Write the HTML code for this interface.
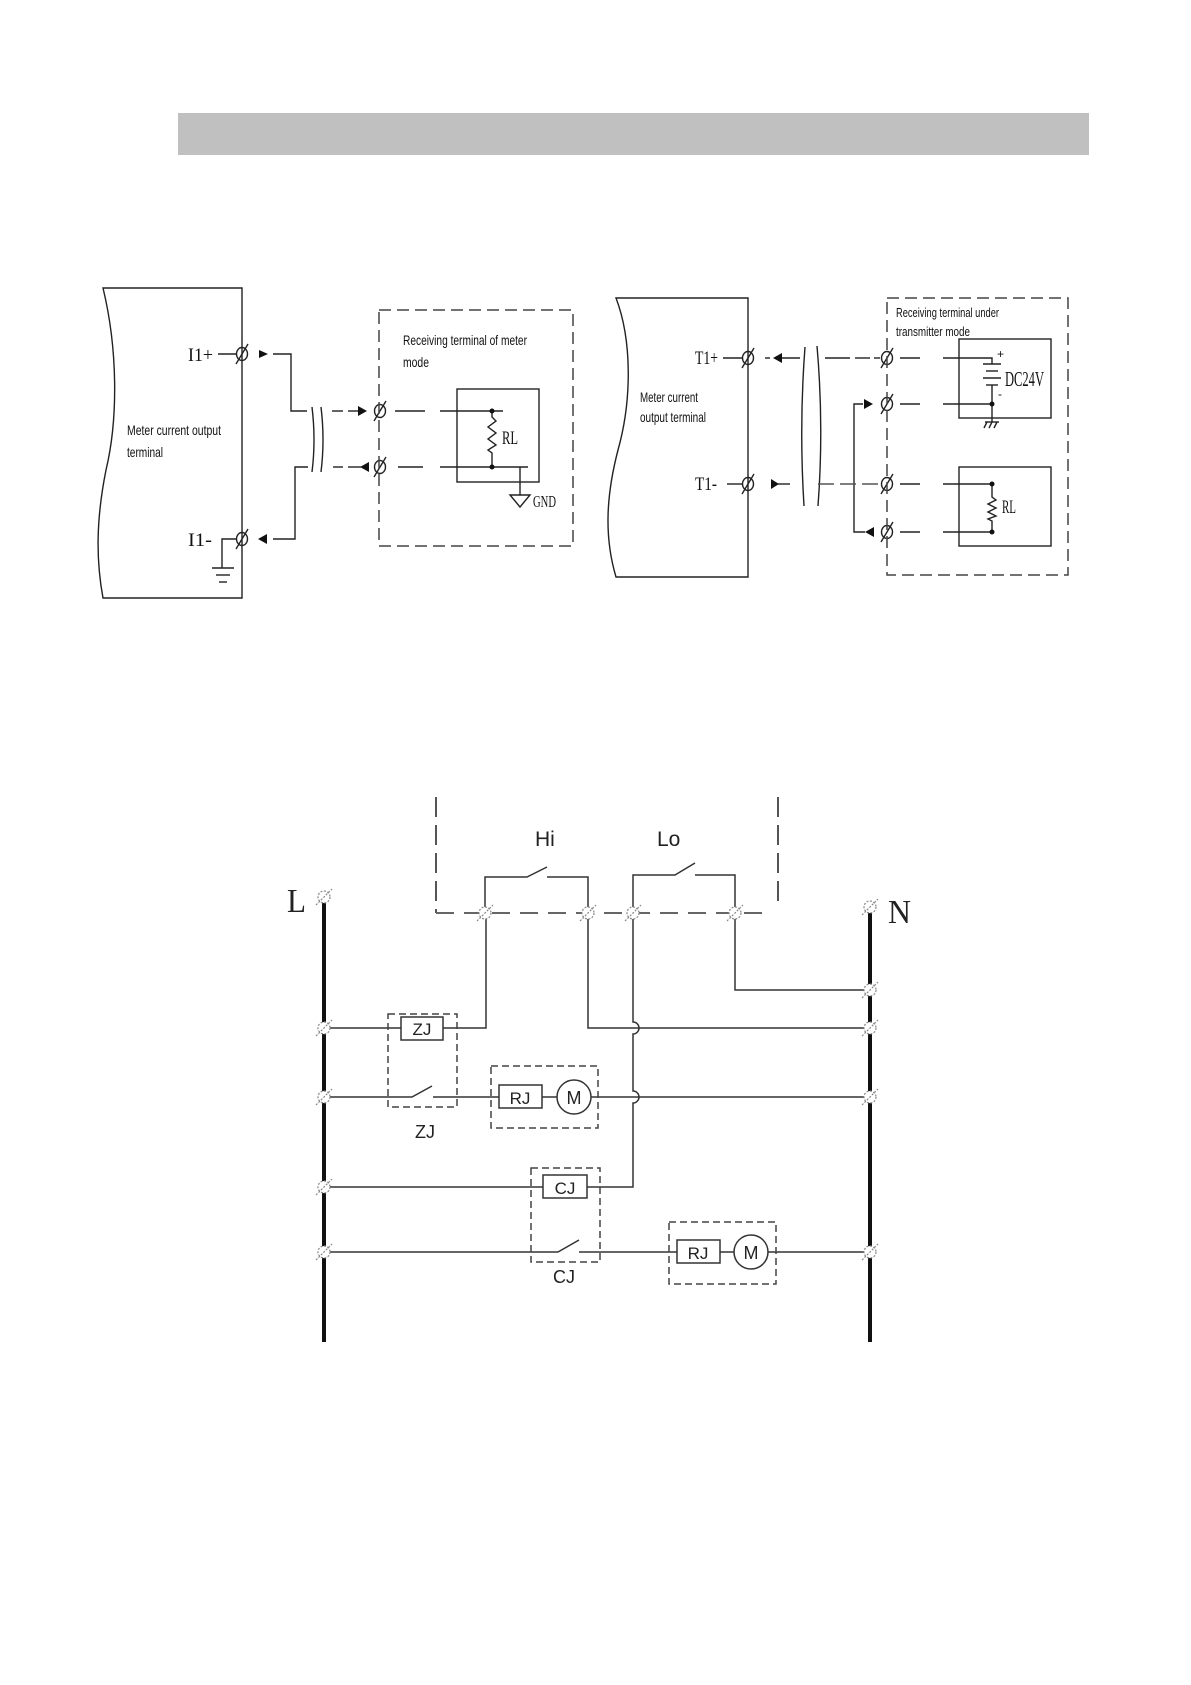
<!DOCTYPE html>
<html>
<head>
<meta charset="utf-8">
<style>
html,body{margin:0;padding:0;background:#fff;}
body{width:1191px;height:1685px;position:relative;overflow:hidden;}
svg{position:absolute;left:0;top:0;}
.s{font-family:"Liberation Sans",sans-serif;}
.r{font-family:"Liberation Serif",serif;}
</style>
</head>
<body>
<svg width="1191" height="1685" viewBox="0 0 1191 1685" xmlns="http://www.w3.org/2000/svg">
<rect x="0" y="0" width="1191" height="1685" fill="#fff"/>
<!-- header bar -->
<rect x="178" y="113" width="911" height="42" fill="#c0c0c0"/>

<!-- ============ LEFT DIAGRAM ============ -->
<g stroke="#222" stroke-width="1.4" fill="none">
  <path d="M242 288 L103 288 C118 350 118 420 106 470 C96 520 96 560 103 598 L242 598 Z"/>
  <!-- I1+ -->
  <line x1="218" y1="354" x2="236" y2="354"/>
  <ellipse cx="242" cy="354" rx="5.5" ry="6.5"/>
  <line x1="236" y1="364" x2="248" y2="344"/>
  <polyline points="273,354 291,354 291,411 307,411"/>
  <!-- break -->
  <path d="M312 407 Q316 440 312 472"/>
  <path d="M321 407 Q325 440 321 472"/>
  <line x1="332" y1="411" x2="343" y2="411"/>
  <line x1="348" y1="411" x2="358" y2="411"/>
  <ellipse cx="380" cy="411" rx="5.5" ry="6.5"/>
  <line x1="374" y1="421" x2="386" y2="401"/>
  <line x1="395" y1="411" x2="425" y2="411"/>
  <line x1="440" y1="411" x2="503" y2="411"/>
  <!-- lower -->
  <line x1="333" y1="467" x2="343" y2="467"/>
  <line x1="348" y1="467" x2="361" y2="467"/>
  <ellipse cx="380" cy="467" rx="5.5" ry="6.5"/>
  <line x1="374" y1="477" x2="386" y2="457"/>
  <line x1="398" y1="467" x2="423" y2="467"/>
  <line x1="440" y1="467" x2="528" y2="467"/>
  <polyline points="308,467 295,467 295,539 273,539"/>
  <!-- I1- -->
  <ellipse cx="242" cy="539" rx="5.5" ry="6.5"/>
  <line x1="236" y1="549" x2="248" y2="529"/>
  <polyline points="236,539 222,539 222,568"/>
  <line x1="212" y1="568" x2="234" y2="568"/>
  <line x1="216" y1="575" x2="230" y2="575"/>
  <line x1="219" y1="582" x2="227" y2="582"/>
  <!-- RL box -->
  <rect x="457" y="389" width="82" height="93"/>
  <path d="M492 411 V417 L496 421 L488 427 L496 433 L488 439 L496 445 L488 450 L492 453 V467"/>
  <polyline points="520,467 520,495"/>
  <path d="M510 495 L530 495 L520 507 Z"/>
</g>
<rect x="379" y="310" width="194" height="236" fill="none" stroke="#444" stroke-width="1.5" stroke-dasharray="12 6"/>
<g fill="#111">
  <path d="M259 350 L268 354 L259 358 Z"/>
  <path d="M358 406 L367 411 L358 416 Z"/>
  <path d="M369 462 L360 467 L369 472 Z"/>
  <path d="M267 534 L258 539 L267 544 Z"/>
  <circle cx="492" cy="411" r="2.5"/>
  <circle cx="492" cy="467" r="2.5"/>
</g>
<g fill="#111">
  <text class="r" x="188" y="361" font-size="19" textLength="25" lengthAdjust="spacingAndGlyphs">I1+</text>
  <text class="r" x="188" y="546" font-size="19" textLength="24" lengthAdjust="spacingAndGlyphs">I1-</text>
  <text class="s" x="127" y="435" font-size="14" textLength="94" lengthAdjust="spacingAndGlyphs">Meter current output</text>
  <text class="s" x="127" y="457" font-size="14" textLength="36" lengthAdjust="spacingAndGlyphs">terminal</text>
  <text class="s" x="403" y="345" font-size="14" textLength="124" lengthAdjust="spacingAndGlyphs">Receiving terminal of meter</text>
  <text class="s" x="403" y="367" font-size="14" textLength="26" lengthAdjust="spacingAndGlyphs">mode</text>
  <text class="r" x="502" y="444" font-size="19" textLength="16" lengthAdjust="spacingAndGlyphs">RL</text>
  <text class="r" x="533" y="507" font-size="17" textLength="23" lengthAdjust="spacingAndGlyphs">GND</text>
</g>

<!-- ============ RIGHT DIAGRAM ============ -->
<g stroke="#222" stroke-width="1.4" fill="none">
  <path d="M748 298 L616 298 C632 340 632 400 618 450 C605 500 605 540 616 577 L748 577 Z"/>
  <!-- T1+ -->
  <line x1="723" y1="358" x2="742" y2="358"/>
  <ellipse cx="748" cy="358" rx="5.5" ry="6.5"/>
  <line x1="742" y1="368" x2="754" y2="348"/>
  <line x1="765" y1="358" x2="770" y2="358"/>
  <line x1="782" y1="358" x2="800" y2="358"/>
  <path d="M805 347 Q799 426 804 506"/>
  <path d="M817 346 Q824 426 818 506"/>
  <line x1="825" y1="358" x2="850" y2="358"/>
  <line x1="855" y1="358" x2="870" y2="358"/>
  <line x1="874" y1="358" x2="880" y2="358"/>
  <ellipse cx="887" cy="358" rx="5.5" ry="6.5"/>
  <line x1="881" y1="368" x2="893" y2="348"/>
  <line x1="900" y1="358" x2="920" y2="358"/>
  <polyline points="943,358 992,358 992,364"/>
  <!-- battery -->
  <line x1="983" y1="364" x2="1001" y2="364"/>
  <line x1="986" y1="371" x2="998" y2="371"/>
  <line x1="983" y1="378" x2="1001" y2="378"/>
  <line x1="986" y1="385" x2="998" y2="385"/>
  <line x1="992" y1="385" x2="992" y2="422"/>
  <line x1="985" y1="422" x2="999" y2="422"/>
  <line x1="987" y1="422" x2="984" y2="428"/>
  <line x1="992" y1="422" x2="989" y2="428"/>
  <line x1="997" y1="422" x2="994" y2="428"/>
  <!-- row 2 -->
  <polyline points="863,404 854,404 854,532 865,532"/>
  <ellipse cx="887" cy="404" rx="5.5" ry="6.5"/>
  <line x1="881" y1="414" x2="893" y2="394"/>
  <line x1="900" y1="404" x2="920" y2="404"/>
  <line x1="943" y1="404" x2="992" y2="404"/>
  <!-- T1- -->
  <line x1="727" y1="484" x2="742" y2="484"/>
  <ellipse cx="748" cy="484" rx="5.5" ry="6.5"/>
  <line x1="742" y1="494" x2="754" y2="474"/>
  <line x1="778" y1="484" x2="790" y2="484"/>
  <line x1="818" y1="484" x2="880" y2="484" stroke-dasharray="16 6" stroke="#555"/>
  <ellipse cx="887" cy="484" rx="5.5" ry="6.5"/>
  <line x1="881" y1="494" x2="893" y2="474"/>
  <line x1="900" y1="484" x2="920" y2="484"/>
  <line x1="943" y1="484" x2="992" y2="484"/>
  <!-- row 4 -->
  <ellipse cx="887" cy="532" rx="5.5" ry="6.5"/>
  <line x1="881" y1="542" x2="893" y2="522"/>
  <line x1="900" y1="532" x2="920" y2="532"/>
  <line x1="943" y1="532" x2="992" y2="532"/>
  <path d="M992 484 V497 L996 500 L988 504 L996 508 L988 512 L996 516 L988 519 L992 521 V532"/>
  <rect x="959" y="339" width="92" height="79"/>
  <rect x="959" y="467" width="92" height="79"/>
</g>
<rect x="887" y="298" width="181" height="277" fill="none" stroke="#444" stroke-width="1.5" stroke-dasharray="12 6"/>
<g fill="#111">
  <path d="M782 353 L773 358 L782 363 Z"/>
  <path d="M864 399 L873 404 L864 409 Z"/>
  <path d="M771 479 L779 484 L771 489 Z"/>
  <path d="M874 527 L865 532 L874 537 Z"/>
  <circle cx="992" cy="404" r="2.5"/>
  <circle cx="992" cy="484" r="2.5"/>
  <circle cx="992" cy="532" r="2.5"/>
</g>
<g fill="#111">
  <text class="r" x="695" y="364" font-size="19" textLength="23" lengthAdjust="spacingAndGlyphs">T1+</text>
  <text class="r" x="695" y="490" font-size="19" textLength="22" lengthAdjust="spacingAndGlyphs">T1-</text>
  <text class="s" x="640" y="402" font-size="14" textLength="58" lengthAdjust="spacingAndGlyphs">Meter current</text>
  <text class="s" x="640" y="422" font-size="14" textLength="66" lengthAdjust="spacingAndGlyphs">output terminal</text>
  <text class="s" x="896" y="317" font-size="13" textLength="103" lengthAdjust="spacingAndGlyphs">Receiving terminal under</text>
  <text class="s" x="896" y="336" font-size="13" textLength="74" lengthAdjust="spacingAndGlyphs">transmitter mode</text>
  <text class="r" x="1005" y="386" font-size="21" textLength="39" lengthAdjust="spacingAndGlyphs">DC24V</text>
  <text class="s" x="997" y="358" font-size="12">+</text>
  <text class="s" x="998" y="398" font-size="12">-</text>
  <text class="r" x="1002" y="513" font-size="19" textLength="14" lengthAdjust="spacingAndGlyphs">RL</text>
</g>

<!-- ============ BOTTOM DIAGRAM ============ -->
<!-- control dashed boundary -->
<g stroke="#555" stroke-width="2" fill="none" stroke-dasharray="20 8">
  <line x1="436" y1="797" x2="436" y2="913"/>
  <line x1="778" y1="797" x2="778" y2="902"/>
</g>
<line x1="436" y1="913" x2="767" y2="913" stroke="#666" stroke-width="2" stroke-dasharray="18 10"/>
<!-- buses -->
<line x1="324" y1="897" x2="324" y2="1342" stroke="#111" stroke-width="4"/>
<line x1="870" y1="907" x2="870" y2="1342" stroke="#111" stroke-width="4"/>
<g stroke="#333" stroke-width="1.5" fill="none">
  <!-- Hi -->
  <polyline points="485,913 485,877 527,877 547,867"/>
  <polyline points="547,877 588,877 588,913"/>
  <!-- Lo -->
  <polyline points="633,913 633,875 675,875 695,863"/>
  <polyline points="695,875 735,875 735,913"/>
  <polyline points="735,913 735,990 870,990"/>
  <polyline points="588,913 588,1028 870,1028"/>
  <!-- vertical 633 with hops -->
  <path d="M633 913 V1022 A6 6 0 0 1 633 1034 V1091 A6 6 0 0 1 633 1103 V1187 H587"/>
  <!-- ZJ row -->
  <line x1="324" y1="1028" x2="401" y2="1028"/>
  <rect x="401" y="1017" width="42" height="23"/>
  <polyline points="443,1028 486,1028 486,913"/>
  <!-- row 2 -->
  <polyline points="324,1097 412,1097 432,1086"/>
  <line x1="433" y1="1097" x2="499" y2="1097"/>
  <rect x="499" y="1085" width="43" height="23"/>
  <line x1="542" y1="1097" x2="557" y2="1097"/>
  <circle cx="574" cy="1097" r="17"/>
  <line x1="591" y1="1097" x2="870" y2="1097"/>
  <!-- CJ row -->
  <line x1="324" y1="1187" x2="543" y2="1187"/>
  <rect x="543" y="1175" width="44" height="23"/>
  <!-- row 4 -->
  <polyline points="324,1252 558,1252 579,1240"/>
  <line x1="579" y1="1252" x2="677" y2="1252"/>
  <rect x="677" y="1240" width="43" height="23"/>
  <line x1="720" y1="1252" x2="734" y2="1252"/>
  <circle cx="751" cy="1252" r="17"/>
  <line x1="768" y1="1252" x2="870" y2="1252"/>
</g>
<!-- white out line under hops -->
<g stroke="#fff" stroke-width="3">
</g>
<g stroke="#444" stroke-width="1.5" fill="none" stroke-dasharray="7 4">
  <rect x="388" y="1014" width="69" height="93"/>
  <rect x="491" y="1066" width="107" height="62"/>
  <rect x="531" y="1168" width="69" height="94"/>
  <rect x="669" y="1222" width="107" height="62"/>
</g>
<!-- terminals -->
<g stroke="#888" stroke-width="1.2" fill="#fff" stroke-dasharray="2 1.5">
  <g transform="translate(324,897)"><circle r="6"/><line x1="-8" y1="8" x2="8" y2="-8"/></g>
  <g transform="translate(324,1028)"><circle r="6"/><line x1="-8" y1="8" x2="8" y2="-8"/></g>
  <g transform="translate(324,1097)"><circle r="6"/><line x1="-8" y1="8" x2="8" y2="-8"/></g>
  <g transform="translate(324,1187)"><circle r="6"/><line x1="-8" y1="8" x2="8" y2="-8"/></g>
  <g transform="translate(324,1252)"><circle r="6"/><line x1="-8" y1="8" x2="8" y2="-8"/></g>
  <g transform="translate(870,907)"><circle r="6"/><line x1="-8" y1="8" x2="8" y2="-8"/></g>
  <g transform="translate(870,990)"><circle r="6"/><line x1="-8" y1="8" x2="8" y2="-8"/></g>
  <g transform="translate(870,1028)"><circle r="6"/><line x1="-8" y1="8" x2="8" y2="-8"/></g>
  <g transform="translate(870,1097)"><circle r="6"/><line x1="-8" y1="8" x2="8" y2="-8"/></g>
  <g transform="translate(870,1252)"><circle r="6"/><line x1="-8" y1="8" x2="8" y2="-8"/></g>
  <g transform="translate(485,913)"><circle r="6"/><line x1="-8" y1="8" x2="8" y2="-8"/></g>
  <g transform="translate(588,913)"><circle r="6"/><line x1="-8" y1="8" x2="8" y2="-8"/></g>
  <g transform="translate(633,913)"><circle r="6"/><line x1="-8" y1="8" x2="8" y2="-8"/></g>
  <g transform="translate(735,913)"><circle r="6"/><line x1="-8" y1="8" x2="8" y2="-8"/></g>
</g>
<g fill="#222">
  <text class="r" x="287" y="912" font-size="34" textLength="19" lengthAdjust="spacingAndGlyphs">L</text>
  <text class="r" x="888" y="923" font-size="34" textLength="23" lengthAdjust="spacingAndGlyphs">N</text>
  <text class="s" x="535" y="846" font-size="21">Hi</text>
  <text class="s" x="657" y="846" font-size="21">Lo</text>
  <text class="s" x="422" y="1035" font-size="17" text-anchor="middle">ZJ</text>
  <text class="s" x="425" y="1138" font-size="18" text-anchor="middle">ZJ</text>
  <text class="s" x="520" y="1104" font-size="17" text-anchor="middle">RJ</text>
  <text class="s" x="574" y="1104" font-size="18" text-anchor="middle">M</text>
  <text class="s" x="565" y="1194" font-size="17" text-anchor="middle">CJ</text>
  <text class="s" x="564" y="1283" font-size="18" text-anchor="middle">CJ</text>
  <text class="s" x="698" y="1259" font-size="17" text-anchor="middle">RJ</text>
  <text class="s" x="751" y="1259" font-size="18" text-anchor="middle">M</text>
</g>
</svg>
</body>
</html>
